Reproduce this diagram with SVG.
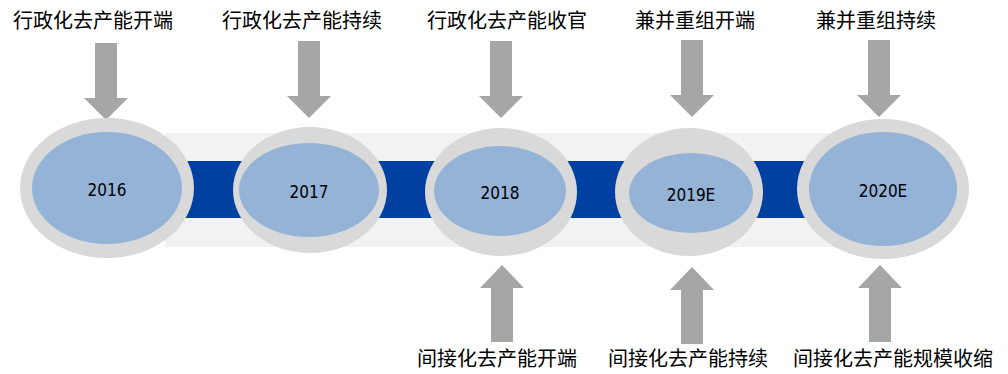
<svg xmlns="http://www.w3.org/2000/svg" width="1008" height="374" viewBox="0 0 1008 374">
<style>
.lbl{font-family:"Noto Sans CJK SC","Noto Sans CJK JP",sans-serif;font-size:20px;fill:#000;text-anchor:middle}
.yr{font-family:"DejaVu Sans Condensed","DejaVu Sans",sans-serif;font-size:17px;fill:#000;text-anchor:middle;dominant-baseline:central}
.outer{fill:#D9D9D9}
.inner{fill:#95B3D7}
.arr{fill:#A6A6A6}
</style>
<defs>
<path id="down" d="M-11,0 H11 V55 H22 L0,77 L-22,55 H-11 Z"/>
<path id="up" d="M-11,0 H11 V-54 H22 L0,-77 L-22,-54 H-11 Z"/>
</defs>
<g id="band">
<rect x="165" y="133" width="700" height="114" fill="#F2F2F2"/>
<rect x="180" y="161" width="680" height="57" fill="#0040A0"/>
</g>
<g id="connectors">
<use href="#down" class="arr" x="106" y="43"/>
<use href="#down" class="arr" x="309" y="41"/>
<use href="#down" class="arr" x="501" y="41"/>
<use href="#down" class="arr" x="692" y="40"/>
<use href="#down" class="arr" x="879" y="40"/>
<use href="#up" class="arr" x="502" y="342"/>
<use href="#up" class="arr" x="692" y="344"/>
<use href="#up" class="arr" x="880" y="342"/>
</g>
<g id="node-2016">
<ellipse class="outer" cx="107" cy="188" rx="87" ry="70"/>
<ellipse class="inner" cx="107" cy="188" rx="75" ry="56"/>
<text class="yr" x="107" y="190">2016</text>
</g>
<g id="node-2017">
<ellipse class="outer" cx="310" cy="190" rx="77" ry="63"/>
<ellipse class="inner" cx="309" cy="190" rx="70" ry="47"/>
<text class="yr" x="309" y="192">2017</text>
</g>
<g id="node-2018">
<ellipse class="outer" cx="501" cy="192" rx="76" ry="64"/>
<ellipse class="inner" cx="500" cy="191" rx="66" ry="45"/>
<text class="yr" x="500" y="193">2018</text>
</g>
<g id="node-2019E">
<ellipse class="outer" cx="689" cy="192" rx="74" ry="64"/>
<ellipse class="inner" cx="691" cy="193" rx="62" ry="40"/>
<text class="yr" x="691" y="195">2019E</text>
</g>
<g id="node-2020E">
<ellipse class="outer" cx="883" cy="189" rx="86" ry="70"/>
<ellipse class="inner" cx="883" cy="189" rx="74" ry="57"/>
<text class="yr" x="883" y="191">2020E</text>
</g>
<g id="labels">
<text class="lbl" x="93" y="28">行政化去产能开端</text>
<text class="lbl" x="302" y="28">行政化去产能持续</text>
<text class="lbl" x="507" y="28">行政化去产能收官</text>
<text class="lbl" x="695" y="28">兼并重组开端</text>
<text class="lbl" x="876" y="28">兼并重组持续</text>
<text class="lbl" x="497" y="366">间接化去产能开端</text>
<text class="lbl" x="688" y="366">间接化去产能持续</text>
<text class="lbl" x="893" y="366">间接化去产能规模收缩</text>
</g>
</svg>
